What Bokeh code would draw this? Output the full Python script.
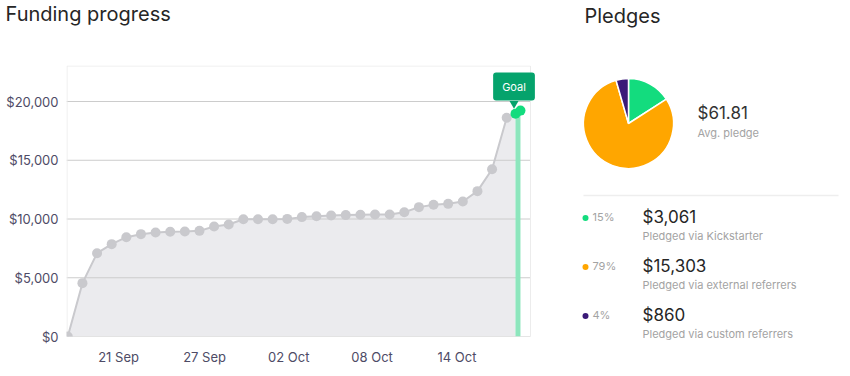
import math
from bokeh.plotting import figure
from bokeh.layouts import row, column
from bokeh.models import Range1d, FixedTicker, NumeralTickFormatter, Label
from bokeh.embed import file_html
from bokeh.resources import INLINE
from bokeh.core.properties import value

# ---------------- data ----------------
day_index = list(range(31))
raised = [0, 4540, 7090, 7860, 8450, 8710, 8850, 8910, 8940, 8990, 9360, 9530,
          9980, 9980, 9980, 10010, 10160, 10240, 10300, 10330, 10360, 10380,
          10380, 10580, 11010, 11210, 11290, 11490, 12370, 14240, 18610]
goal_index = [30.6, 30.94]
goal_raised = [18950, 19224]
tick_labels = ["21 Sep", "27 Sep", "02 Oct", "08 Oct", "14 Oct"]
tick_index = [3.47, 9.35, 15.1, 20.8, 26.6]
y_ticks = [0, 5000, 10000, 15000, 20000]

channels = ["Pledged via Kickstarter", "Pledged via external referrers", "Pledged via custom referrers"]
amounts = [3061, 15303, 860]
amount_labels = ["$3,061", "$15,303", "$860"]
pct_labels = ["15%", "79%", "4%"]
avg_pledge = "$61.81"

# ---------------- style ----------------
FONT = "Inter"
COLORS = ["#13dc7e", "#ffa600", "#3b1a78"]
AXIS_TXT = "#4e4b66"
GRAY_TXT = "#a3a3a3"
DARK_TXT = "#262626"
W, H = 850, 376
LEFT_W = 545
TITLE_H = 50
CHART_H = H - TITLE_H
FRAME_L, FRAME_R_VIS, FRAME_R = 66, 530, 540
FRAME_T, FRAME_B = 65, 336
PX_PER_DAY = 14.63
X0 = -1.3 / PX_PER_DAY
X1 = X0 + (FRAME_R - FRAME_L) / PX_PER_DAY
XR = X0 + (FRAME_R_VIS - FRAME_L) / PX_PER_DAY
YMAX = 23064
VAL_PER_PX = YMAX / (FRAME_B - FRAME_T)

# ---------------- left title ----------------
tp = figure(width=LEFT_W, height=TITLE_H, x_range=Range1d(0, LEFT_W), y_range=Range1d(0, TITLE_H),
            x_axis_type=None, y_axis_type=None, toolbar_location=None, output_backend="svg",
            min_border=0, outline_line_color=None)
tp.text(x=[5], y=[TITLE_H - 13], text=["Funding progress"], text_font=value(FONT),
        text_font_size="20px", text_color=DARK_TXT, text_baseline="middle", text_align="left")

# ---------------- chart ----------------
p = figure(width=LEFT_W, height=CHART_H, x_range=Range1d(X0, X1), y_range=Range1d(0, YMAX),
           toolbar_location=None, output_backend="svg",
           min_border_left=FRAME_L, min_border_right=LEFT_W - FRAME_R,
           min_border_top=FRAME_T - TITLE_H, min_border_bottom=H - FRAME_B)
p.outline_line_color = None
p.xgrid.visible = False
p.ygrid.visible = False

area_x = day_index + goal_index[:1]
area_y = raised + goal_raised[:1]
p.varea(x=area_x, y1=[0] * len(area_x), y2=area_y, fill_color="#ebebee")

# horizontal grid lines, limited to the visible plot box
p.segment(x0=[X0] * len(y_ticks), y0=y_ticks, x1=[XR] * len(y_ticks), y1=y_ticks,
          line_color="#cccccc", line_width=1)

# light frame border (left, top, right) drawn inside the frame
half_x = 0.5 / PX_PER_DAY
half_y = 0.5 * VAL_PER_PX
p.line([X0 + half_x, X0 + half_x, XR, XR], [0, YMAX - half_y, YMAX - half_y, 0],
       line_color="#ececec", line_width=1)

p.line(day_index, raised, line_color="#c9c9cd", line_width=2)
p.scatter(day_index, raised, size=10, fill_color="#c9c9cd", line_color=None)

bar_x = sum(goal_index) / len(goal_index)
p.segment(x0=[bar_x], y0=[0], x1=[bar_x], y1=[goal_raised[0]], line_color="#8de6bd", line_width=5)
p.line(goal_index, goal_raised, line_color="#13dc7e", line_width=8)
p.scatter(goal_index, goal_raised, size=10, fill_color="#13dc7e", line_color=None)

p.scatter([goal_index[0] - 0.1], [goal_raised[-1] + 7 * VAL_PER_PX], marker="inverted_triangle",
          size=9, fill_color="#05a36c", line_color=None)
p.add_layout(Label(x=goal_index[0] - 0.1, y=goal_raised[-1], y_offset=24, text="Goal",
                   text_font=FONT, text_font_size="11px", text_color="white",
                   text_align="center", text_baseline="middle",
                   background_fill_color="#05a36c", border_radius=3,
                   padding=dict(left=9, right=9, top=7, bottom=7)))

p.yaxis.ticker = FixedTicker(ticks=y_ticks)
p.yaxis.formatter = NumeralTickFormatter(format="$0,0")
p.xaxis.ticker = FixedTicker(ticks=tick_index)
p.xaxis.major_label_overrides = {t: l for t, l in zip(tick_index, tick_labels)}
for ax in (p.xaxis, p.yaxis):
    ax.axis_line_color = None
    ax.major_tick_line_color = None
    ax.minor_tick_line_color = None
    ax.major_tick_out = 0
    ax.major_tick_in = 0
    ax.minor_tick_out = 0
    ax.major_label_text_font = FONT
    ax.major_label_text_font_size = "13px"
    ax.major_label_text_color = AXIS_TXT
p.yaxis.major_label_standoff = 8
p.xaxis.major_label_standoff = 12

# ---------------- right panel ----------------
RW = W - LEFT_W
r = figure(width=RW, height=H, x_range=Range1d(LEFT_W, W), y_range=Range1d(0, H),
           x_axis_type=None, y_axis_type=None, toolbar_location=None, output_backend="svg",
           min_border=0, outline_line_color=None)

def Y(py):
    return H - py

r.text(x=[584], y=[Y(15)], text=["Pledges"], text_font=value(FONT), text_font_size="20px",
       text_color=DARK_TXT, text_baseline="middle")

total = sum(amounts)
starts, ends = [], []
cum = 0.0
for a in amounts:
    starts.append(math.pi / 2 - 2 * math.pi * cum / total)
    cum += a
    ends.append(math.pi / 2 - 2 * math.pi * cum / total)
r.wedge(x=[628] * 3, y=[Y(123)] * 3, radius=45, start_angle=starts, end_angle=ends,
        direction="clock", fill_color=COLORS, line_color="white", line_width=1.5)

r.text(x=[697], y=[Y(112)], text=[avg_pledge], text_font=value(FONT), text_font_size="17px",
       text_color="#333333", text_baseline="middle")
r.text(x=[697], y=[Y(132)], text=["Avg. pledge"], text_font=value(FONT), text_font_size="11px",
       text_color=GRAY_TXT, text_baseline="middle")

r.segment(x0=[583], y0=[Y(195)], x1=[838], y1=[Y(195)], line_color="#eeeeee", line_width=1.5)

row_y = [216, 265, 314]
r.scatter([585] * 3, [Y(v + 1.5) for v in row_y], size=6, fill_color=COLORS, line_color=None)
r.text(x=[592] * 3, y=[Y(v) for v in row_y], text=pct_labels, text_font=value(FONT),
       text_font_size="11px", text_color=GRAY_TXT, text_baseline="middle")
r.text(x=[642] * 3, y=[Y(v) for v in row_y], text=amount_labels, text_font=value(FONT),
       text_font_size="17px", text_color=DARK_TXT, text_baseline="middle")
r.text(x=[642] * 3, y=[Y(v + 19.5) for v in row_y], text=channels, text_font=value(FONT),
       text_font_size="11px", text_color=GRAY_TXT, text_baseline="middle")

left = column(row(tp, spacing=0), p, spacing=0)
layout = row(left, r, spacing=0)
open("out.html", "w").write(file_html(layout, INLINE))
